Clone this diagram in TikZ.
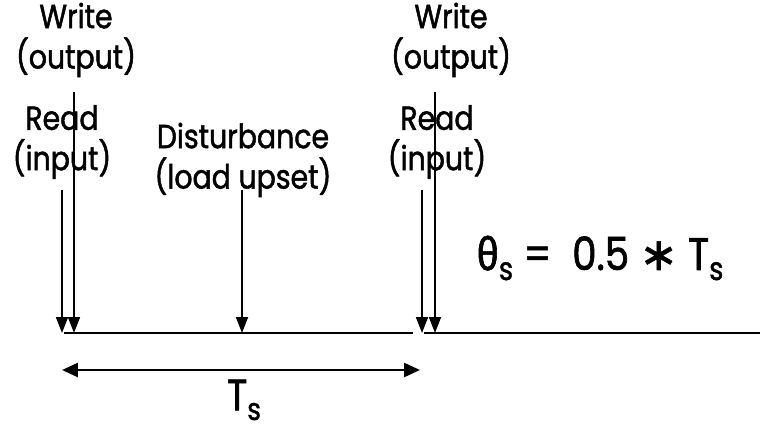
\documentclass[tikz,border=0pt]{standalone}
\usepackage{fontspec}
\setmainfont[FakeStretch=0.85,FakeBold=1.4]{Poppins}
\newfontfamily\greekfont[FakeStretch=0.85,FakeBold=1.4]{Fira Sans}
\newfontfamily\symfont[FakeBold=1.4]{DejaVu Sans}
\usetikzlibrary{arrows.meta,positioning}

\newcommand{\subs}[1]{\raisebox{-0.4ex}{\scalebox{0.7}{#1}}}

\begin{document}
\begin{tikzpicture}[
    x=0.02cm,y=-0.02cm,
    label/.style={align=center,font=\fontsize{19}{23}\selectfont,inner sep=0pt},
    event/.style={-{Triangle[length=0.32cm,width=0.24cm]},line width=1pt},
    axis/.style={line width=1.6pt},
    period/.style={{Triangle[length=0.32cm,width=0.28cm]}-{Triangle[length=0.32cm,width=0.28cm]},line width=1.6pt}
]
    \useasboundingbox (0,0) rectangle (760,429);

    % labels
    \node[label] (write1) at (76,40) {Write\\(output)};
    \node[label] (read1) at (62,142) {Read\\(input)};
    \node[label] (dist) at (243,160) {Disturbance\\(load upset)};
    \node[label] (write2) at (451,40) {Write\\(output)};
    \node[label] (read2) at (437,142) {Read\\(input)};
    \node[font=\fontsize{26}{30}\selectfont,inner sep=0pt] (eq) at (600,258)
        {{\greekfont θ}\subs{s} =~ 0.5 {\symfont ∗} T\subs{s}};
    \node[font=\fontsize{25}{28}\selectfont,inner sep=0pt] (ts) at (244,400) {T\subs{s}};

    % time axis
    \coordinate (a1) at (64,333);
    \coordinate (a2) at (413,333);
    \coordinate (a3) at (424,333);
    \coordinate (a4) at (760,333);
    \draw[axis] (a1) -- (a2);
    \draw[axis] (a3) -- (a4);

    % events
    \coordinate (r1) at (62,190);
    \coordinate (w1) at (74,92);
    \coordinate (d1) at (242,190);
    \coordinate (r2) at (422,190);
    \coordinate (w2) at (435,92);
    \draw[event] (r1) -- (r1 |- a1);
    \draw[event] (w1) -- (w1 |- a1);
    \draw[event] (d1) -- (d1 |- a1);
    \draw[event] (r2) -- (r2 |- a1);
    \draw[event] (w2) -- (w2 |- a1);

    % sampling period
    \coordinate (p1) at (62,370);
    \coordinate (p2) at (420,370);
    \draw[period] (p1) -- (p2);
\end{tikzpicture}
\end{document}
